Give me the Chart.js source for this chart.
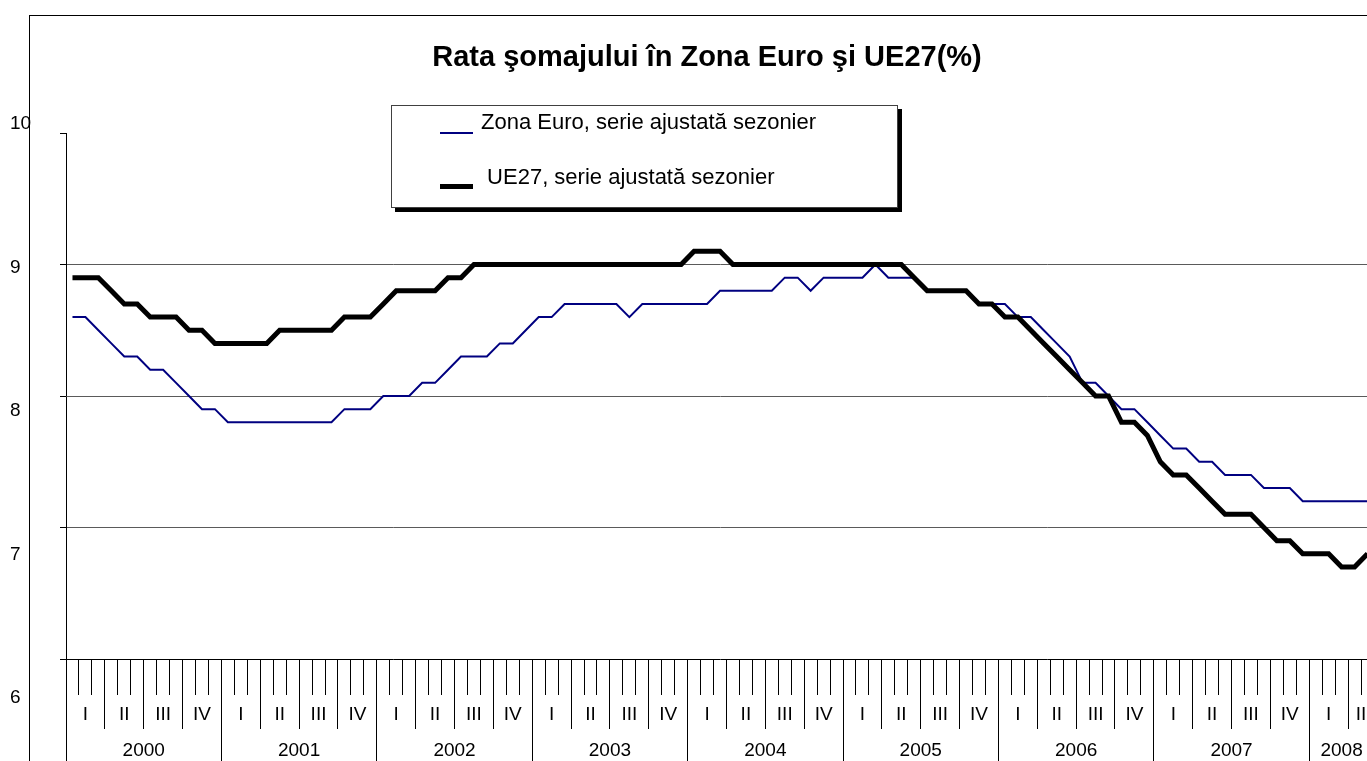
<!DOCTYPE html>
<html>
<head>
<meta charset="utf-8">
<title>Rata şomajului în Zona Euro şi UE27(%)</title>
<script src="https://cdn.jsdelivr.net/npm/chart.js@4.4.1/dist/chart.umd.min.js"></script>
<style>
  html, body { margin: 0; padding: 0; background: #fff; overflow: hidden; }
  #wrap { position: relative; width: 1367px; height: 761px; overflow: hidden; background: #fff; }
  #wrap canvas { position: absolute; left: 0; top: 0; }
  #frame { position: absolute; left: 29px; top: 15px; width: 2000px; height: 2000px;
           border-left: 1px solid #000; border-top: 1px solid #000; }
  #legend { position: absolute; left: 391px; top: 105px; width: 505px; height: 101px;
            border: 1px solid #404040; background: #fff; box-shadow: 4px 4px 0 #000;
            font-family: Arial, "Liberation Sans", sans-serif; font-size: 22px; color: #000; }
  #legend .item { position: absolute; left: 0; height: 26px; line-height: 26px; width: 100%; }
  #legend .swatch { position: absolute; left: 48px; width: 33px; }
  #legend .text { position: absolute; left: 89px; top: 0; white-space: pre; }
</style>
</head>
<body>
<div id="wrap">
  <canvas id="yLabels" width="1367" height="761"></canvas>
  <div id="frame"></div>
  <canvas id="chart" width="1380" height="761"></canvas>
  <div id="legend"></div>
</div>
<script>
/* Rata somajului - Zona Euro vs UE27, serii lunare ajustate sezonier */

const FONT = "Arial, 'Liberation Sans', sans-serif";

const years        = [2000, 2001, 2002, 2003, 2004, 2005, 2006, 2007, 2008];
const quarterNames = ["I", "II", "III", "IV"];
const yTicks       = [6, 7, 8, 9, 10];

// monthly values, Jan 2000 - May 2008
const euroArea = [
  8.6, 8.6, 8.5, 8.4, 8.3, 8.3, 8.2, 8.2, 8.1, 8.0, 7.9, 7.9,   // 2000
  7.8, 7.8, 7.8, 7.8, 7.8, 7.8, 7.8, 7.8, 7.8, 7.9, 7.9, 7.9,   // 2001
  8.0, 8.0, 8.0, 8.1, 8.1, 8.2, 8.3, 8.3, 8.3, 8.4, 8.4, 8.5,   // 2002
  8.6, 8.6, 8.7, 8.7, 8.7, 8.7, 8.7, 8.6, 8.7, 8.7, 8.7, 8.7,   // 2003
  8.7, 8.7, 8.8, 8.8, 8.8, 8.8, 8.8, 8.9, 8.9, 8.8, 8.9, 8.9,   // 2004
  8.9, 8.9, 9.0, 8.9, 8.9, 8.9, 8.8, 8.8, 8.8, 8.8, 8.7, 8.7,   // 2005
  8.7, 8.6, 8.6, 8.5, 8.4, 8.3, 8.1, 8.1, 8.0, 7.9, 7.9, 7.8,   // 2006
  7.7, 7.6, 7.6, 7.5, 7.5, 7.4, 7.4, 7.4, 7.3, 7.3, 7.3, 7.2,   // 2007
  7.2, 7.2, 7.2, 7.2, 7.2                                       // 2008
];
const eu27 = [
  8.9, 8.9, 8.9, 8.8, 8.7, 8.7, 8.6, 8.6, 8.6, 8.5, 8.5, 8.4,   // 2000
  8.4, 8.4, 8.4, 8.4, 8.5, 8.5, 8.5, 8.5, 8.5, 8.6, 8.6, 8.6,   // 2001
  8.7, 8.8, 8.8, 8.8, 8.8, 8.9, 8.9, 9.0, 9.0, 9.0, 9.0, 9.0,   // 2002
  9.0, 9.0, 9.0, 9.0, 9.0, 9.0, 9.0, 9.0, 9.0, 9.0, 9.0, 9.0,   // 2003
  9.1, 9.1, 9.1, 9.0, 9.0, 9.0, 9.0, 9.0, 9.0, 9.0, 9.0, 9.0,   // 2004
  9.0, 9.0, 9.0, 9.0, 9.0, 8.9, 8.8, 8.8, 8.8, 8.8, 8.7, 8.7,   // 2005
  8.6, 8.6, 8.5, 8.4, 8.3, 8.2, 8.1, 8.0, 8.0, 7.8, 7.8, 7.7,   // 2006
  7.5, 7.4, 7.4, 7.3, 7.2, 7.1, 7.1, 7.1, 7.0, 6.9, 6.9, 6.8,   // 2007
  6.8, 6.8, 6.7, 6.7, 6.8                                       // 2008
];

// one category per month
const months = [];
years.forEach(y => { for (let m = 1; m <= 12; m++) months.push(m + "/" + y); });
months.length = euroArea.length;

// ticks for a band axis (quarters / years): edges get a tick line, centres get the text
function bandTicks(size, name) {
  const ticks = [];
  for (let s = 0; s < months.length; s += size) {
    const e = Math.min(s + size, months.length);
    ticks.push({ value: s - 0.5, edge: true, name: "" });
    ticks.push({ value: (s + e - 1) / 2, edge: false, name: name(s) });
  }
  ticks.push({ value: months.length - 0.5, edge: true, name: "" });
  return ticks;
}

function bandAxis(size, name, weight, tickLength, height, padding) {
  return {
    type: "linear",
    position: "bottom",
    weight: weight,
    min: -0.5,
    max: months.length - 0.5,
    afterBuildTicks: s => { s.ticks = bandTicks(size, name); },
    afterFit: s => { s.height = height; },
    border: { display: false },
    grid: {
      drawOnChartArea: false,
      tickLength: tickLength,
      tickWidth: 1,
      tickColor: c => (c.tick && c.tick.edge) ? "#000" : "rgba(0,0,0,0)"
    },
    ticks: {
      autoSkip: false, maxRotation: 0, minRotation: 0,
      padding: padding,
      color: "#000",
      font: { family: FONT, size: 19 },
      callback: (v, i, t) => t[i].name
    }
  };
}

// y labels sit on their own axis, offset from the gridlines like in the original
new Chart(document.getElementById("yLabels"), {
  type: "line",
  data: { labels: [], datasets: [] },
  options: {
    responsive: false,
    animation: false,
    layout: { padding: { left: 10, top: 124, bottom: 63, right: 0 } },
    plugins: { legend: { display: false }, tooltip: { enabled: false } },
    scales: {
      x: { display: false },
      y: {
        min: 6, max: 10,
        afterBuildTicks: s => { s.ticks = yTicks.map(v => ({ value: v })); },
        border: { display: false },
        grid: { display: false },
        ticks: { crossAlign: "far", color: "#000", font: { family: FONT, size: 19 } }
      }
    }
  }
});

const chart = new Chart(document.getElementById("chart"), {
  type: "line",
  data: {
    labels: months,
    datasets: [
      {
        label: "Zona Euro, serie ajustată sezonier",
        data: euroArea,
        borderColor: "#000080",
        borderWidth: 2,
        pointRadius: 0,
        tension: 0,
        order: 1
      },
      {
        label: " UE27, serie ajustată sezonier",
        data: eu27,
        borderColor: "#000",
        borderWidth: 5,
        pointRadius: 0,
        tension: 0,
        order: 0
      }
    ]
  },
  options: {
    responsive: false,
    animation: false,
    layout: { padding: { left: 40, right: 6, top: 0, bottom: 0 } },
    plugins: {
      legend: { display: false },
      tooltip: { enabled: false },
      title: {
        display: true,
        text: "Rata şomajului în Zona Euro şi UE27(%)",
        color: "#000",
        font: { family: FONT, size: 29, weight: "bold" },
        padding: { top: 41, bottom: 57.2 }
      }
    },
    scales: {
      x: {
        type: "category",
        offset: true,
        weight: 0,
        afterFit: s => { s.height = 36; },
        border: { color: "#000", width: 1 },
        grid: { offset: true, drawOnChartArea: false, tickLength: 36, tickColor: "#000" },
        ticks: { display: false, autoSkip: false }
      },
      xq: bandAxis(3, s => quarterNames[(s / 3) % 4], 1, 34, 34, -25.4),
      xy: bandAxis(12, s => String(years[s / 12]), 2, 40, 32, -29.4),
      y: {
        min: 6, max: 10,
        afterBuildTicks: s => { s.ticks = yTicks.map(v => ({ value: v })); },
        afterFit: s => { s.width = 26; },
        border: { color: "#000", width: 1 },
        grid: {
          color: c => (c.tick.value > 6 && c.tick.value < 10) ? "#5a5a5a" : "rgba(0,0,0,0)",
          tickLength: 6,
          tickColor: "#000"
        },
        ticks: { display: false }
      }
    }
  }
});

// legend box, built from the datasets
const legend = document.getElementById("legend");
chart.data.datasets.forEach((ds, i) => {
  const item = document.createElement("div");
  item.className = "item";
  item.style.top = (3 + i * 55) + "px";
  const sw = document.createElement("span");
  sw.className = "swatch";
  sw.style.height = ds.borderWidth + "px";
  sw.style.top = (25 - ds.borderWidth) + "px";
  sw.style.background = ds.borderColor;
  const tx = document.createElement("span");
  tx.className = "text";
  tx.textContent = ds.label;
  item.appendChild(sw);
  item.appendChild(tx);
  legend.appendChild(item);
});
</script>
</body>
</html>
